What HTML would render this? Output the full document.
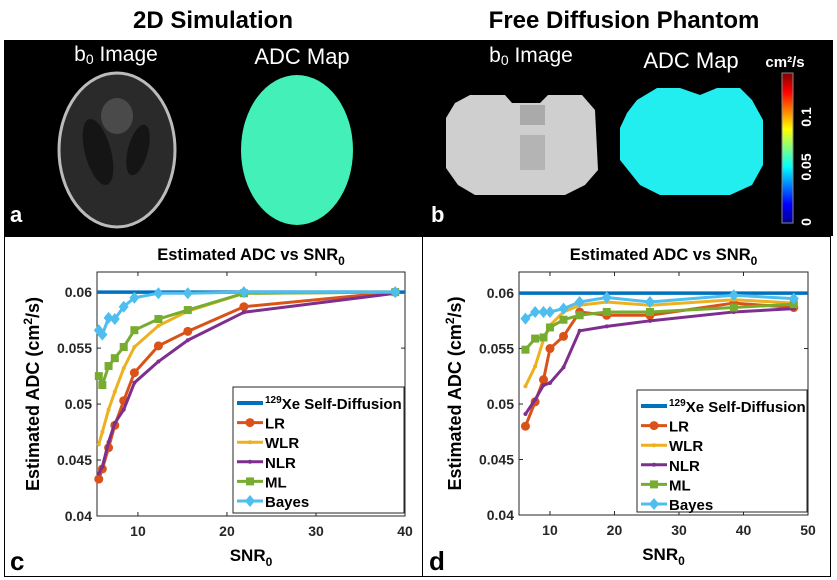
<!DOCTYPE html>
<html><head><meta charset="utf-8"><style>
html,body{margin:0;padding:0;background:#fff;}
svg{display:block;font-family:"Liberation Sans",Arial,sans-serif;}
</style></head><body>
<svg id="fig" width="837" height="580" viewBox="0 0 837 580">
<text x="213" y="28" font-size="24" font-weight="bold" text-anchor="middle" fill="#000">2D Simulation</text>
<text x="624" y="28" font-size="24" font-weight="bold" text-anchor="middle" fill="#000">Free Diffusion Phantom</text>
<rect x="4" y="40" width="829" height="196" fill="#000"/>
<g>
<text x="116" y="61" font-size="21" fill="#fff" text-anchor="middle">b<tspan font-size="14" dy="3">0</tspan><tspan dy="-3"> Image</tspan></text>
<text x="302" y="64" font-size="22" fill="#fff" text-anchor="middle">ADC Map</text>
<ellipse cx="117" cy="150" rx="58" ry="77" fill="#2a2a2a" stroke="#bbb" stroke-width="3"/>
<ellipse cx="117" cy="116" rx="16" ry="18" fill="#4a4a4a"/>
<ellipse cx="98" cy="152" rx="13" ry="34" fill="#151515" transform="rotate(-15 98 152)"/>
<ellipse cx="138" cy="150" rx="10" ry="26" fill="#151515" transform="rotate(15 138 150)"/>
<ellipse cx="297" cy="150" rx="56" ry="75" fill="#42f0b8"/>
<text x="10" y="222" font-size="22" font-weight="bold" fill="#fff">a</text>
</g>
<g>
<text x="531" y="62" font-size="21" fill="#fff" text-anchor="middle">b<tspan font-size="14" dy="3">0</tspan><tspan dy="-3"> Image</tspan></text>
<text x="691" y="68" font-size="22" fill="#fff" text-anchor="middle">ADC Map</text>
<path d="M446 118 L455 103 L470 95 L505 95 L512 103 L540 103 L548 95 L582 95 L595 110 L598 170 L585 185 L565 195 L475 195 L458 185 L446 168 Z" fill="#cfcfcf"/>
<rect x="520" y="105" width="25" height="20" fill="#aaa"/>
<rect x="520" y="135" width="25" height="35" fill="#b4b4b4"/>
<path d="M627 113 L637 100 L657 88 L680 88 L700 95 L717 88 L740 88 L752 100 L763 120 L763 165 L752 185 L730 195 L660 195 L640 185 L620 160 L620 128 Z" fill="#22eef0"/>
<text x="431" y="222" font-size="22" font-weight="bold" fill="#fff">b</text>
<defs><linearGradient id="jet" x1="0" y1="1" x2="0" y2="0">
<stop offset="0" stop-color="#00008f"/><stop offset="0.125" stop-color="#0000ff"/><stop offset="0.375" stop-color="#00ffff"/><stop offset="0.625" stop-color="#ffff00"/><stop offset="0.875" stop-color="#ff0000"/><stop offset="1" stop-color="#800000"/></linearGradient></defs>
<rect x="782" y="73" width="11" height="150" fill="url(#jet)" stroke="#888" stroke-width="1"/>
<text x="785" y="67" font-size="15" font-weight="bold" fill="#fff" text-anchor="middle">cm²/s</text>
<text transform="translate(811 222) rotate(-90)" font-size="14" font-weight="bold" fill="#fff" text-anchor="middle">0</text>
<text transform="translate(811 167) rotate(-90)" font-size="14" font-weight="bold" fill="#fff" text-anchor="middle">0.05</text>
<text transform="translate(811 117) rotate(-90)" font-size="14" font-weight="bold" fill="#fff" text-anchor="middle">0.1</text>
</g>
<rect x="4.5" y="236.5" width="418" height="340" fill="none" stroke="#000"/>
<rect x="422.5" y="236.5" width="408" height="340" fill="none" stroke="#000"/>
<text x="10" y="570" font-size="26" font-weight="bold" fill="#000">c</text>
<text x="429" y="570" font-size="26" font-weight="bold" fill="#000">d</text>
<g id="chartC"></g>
<g id="chartD"></g>
</svg>
<script>
const xC = [5.6, 6.0, 6.7, 7.4, 8.4, 9.6, 12.3, 15.6, 21.9, 38.9];
const lrC = [0.0433,0.0442,0.0461,0.0481,0.0503,0.0528,0.0552,0.0565,0.0587,0.0600];
const wlrC = [0.0464,0.0475,0.0495,0.0511,0.0532,0.0551,0.0570,0.0583,0.0599,0.0600];
const nlrC = [0.0438,0.0444,0.0466,0.0483,0.0495,0.0519,0.0538,0.0557,0.0582,0.0599];
const mlC = [0.0525,0.0517,0.0534,0.0541,0.0551,0.0566,0.0576,0.0584,0.0599,0.0600];
const bayesC = [0.0566,0.0562,0.0577,0.0576,0.0587,0.0595,0.0599,0.0599,0.0600,0.0600];
const xD = [6.2, 7.7, 9.0, 10.0, 12.1, 14.6, 18.8, 25.5, 38.5, 47.8];
const lrD = [0.0480,0.0502,0.0522,0.0550,0.0561,0.0583,0.0580,0.0580,0.0591,0.0587];
const wlrD = [0.0516,0.0534,0.0558,0.0571,0.0583,0.0589,0.0592,0.0589,0.0594,0.0591];
const nlrD = [0.0491,0.0504,0.0517,0.0519,0.0533,0.0566,0.0570,0.0575,0.0583,0.0586];
const mlD = [0.0549,0.0559,0.0560,0.0569,0.0576,0.0580,0.0583,0.0583,0.0587,0.0590];
const bayesD = [0.0577,0.0583,0.0583,0.0583,0.0586,0.0592,0.0596,0.0592,0.0598,0.0595];
const refValue = 0.06;
const yTicks = [0.04,0.045,0.05,0.055,0.06];
const yTickLabels = ["0.04","0.045","0.05","0.055","0.06"];
const xTicksC = [10,20,30,40];
const xTicksD = [10,20,30,40,50];
const seriesNames = ["LR","WLR","NLR","ML","Bayes"];
const NS = "http://www.w3.org/2000/svg";
const COL = {LR:"#D95319",WLR:"#EDB120",NLR:"#7E2F8E",ML:"#77AC30",Bayes:"#4DBEEE"};
function mk(parent, tag, attrs){const e=document.createElementNS(NS,tag);for(const k in attrs)e.setAttribute(k,attrs[k]);parent.appendChild(e);return e;}
function marker(g,name,px,py){
  let e;
  if(name==="LR"){e=mk(g,"circle",{cx:px,cy:py,r:4.5,fill:COL.LR});}
  else if(name==="ML"){e=mk(g,"rect",{x:px-4,y:py-4,width:8,height:8,fill:COL.ML});}
  else if(name==="Bayes"){e=mk(g,"path",{d:`M${px} ${py-6}L${px+5} ${py}L${px} ${py+6}L${px-5} ${py}Z`,fill:COL.Bayes});}
  else {e=mk(g,"circle",{cx:px,cy:py,r:2,fill:COL[name]});}
  
  
}
function chart(gid, cfg){
  const g=document.getElementById(gid);
  const sx=v=>cfg.L+(v-cfg.xmin)/(cfg.xmax-cfg.xmin)*(cfg.R-cfg.L);
  const sy=v=>cfg.B-(v-0.04)/(cfg.ymax-0.04)*(cfg.B-cfg.T);
  const ax=mk(g,"rect",{x:cfg.L,y:cfg.T,width:cfg.R-cfg.L,height:cfg.B-cfg.T,fill:"#fff",stroke:"#262626","stroke-width":1});
  
  
  yTicks.forEach((t,i)=>{
    const y=sy(t);
    mk(g,"line",{x1:cfg.L,x2:cfg.L+4,y1:y,y2:y,stroke:"#262626"});
    mk(g,"line",{x1:cfg.R,x2:cfg.R-4,y1:y,y2:y,stroke:"#262626"});
    const tx=mk(g,"text",{x:cfg.L-5,y:y+5,"font-size":14,"font-weight":"bold","text-anchor":"end",fill:"#262626"});
    tx.textContent=yTickLabels[i];
    
    
  });
  cfg.xt.forEach(t=>{
    const x=sx(t);
    mk(g,"line",{x1:x,x2:x,y1:cfg.B,y2:cfg.B-4,stroke:"#262626"});
    mk(g,"line",{x1:x,x2:x,y1:cfg.T,y2:cfg.T+4,stroke:"#262626"});
    const tx=mk(g,"text",{x:x,y:cfg.B+20,"font-size":14,"font-weight":"bold","text-anchor":"middle",fill:"#262626"});
    tx.textContent=t;
    
    
  });
  const ttl=mk(g,"text",{x:(cfg.L+cfg.R)/2,y:cfg.T-12,"font-size":16.5,"font-weight":"bold","text-anchor":"middle",fill:"#000"});
  ttl.innerHTML='Estimated ADC vs SNR<tspan font-size="12" dy="5">0</tspan>';
  
  
  const xl=mk(g,"text",{x:(cfg.L+cfg.R)/2,y:cfg.B+45,"font-size":17,"font-weight":"bold","text-anchor":"middle",fill:"#000"});
  xl.innerHTML='SNR<tspan font-size="12" dy="5">0</tspan>';
  
  
  const yl=mk(g,"text",{transform:`translate(${cfg.L-58} ${(cfg.T+cfg.B)/2}) rotate(-90)`,"font-size":18,"font-weight":"bold","text-anchor":"middle",fill:"#000"});
  yl.innerHTML='Estimated ADC (cm<tspan font-size="12" dy="-7">2</tspan><tspan dy="7">/s)</tspan>';
  
  
  const ref=mk(g,"line",{x1:cfg.L,x2:cfg.R,y1:sy(refValue),y2:sy(refValue),stroke:"#0072BD","stroke-width":3.5});
  
  
  const order=["LR","WLR","NLR","ML","Bayes"];
  order.forEach(n=>{
    const vals=cfg.data[n];
    const sg=mk(g,"g",{});
    
    
    const pts=cfg.x.map((xv,i)=>sx(xv)+","+sy(vals[i])).join(" ");
    mk(sg,"polyline",{points:pts,fill:"none",stroke:COL[n],"stroke-width":3,"stroke-linejoin":"round"});
    cfg.x.forEach((xv,i)=>marker(sg,n,sx(xv),sy(vals[i])));
  });
  const lg=mk(g,"g",{});
  
  
  mk(lg,"rect",{x:cfg.lx,y:cfg.ly,width:cfg.R-cfg.lx-1,height:cfg.B-cfg.ly-3,fill:"#fff",stroke:"#262626"});
  const step=19.6;
  let y0=cfg.ly+16;
  mk(lg,"line",{x1:cfg.lx+4,x2:cfg.lx+30,y1:y0,y2:y0,stroke:"#0072BD","stroke-width":4});
  const t0=mk(lg,"text",{x:cfg.lx+32,y:y0+6,"font-size":15,"font-weight":"bold",fill:"#000"});
  t0.innerHTML='<tspan font-size="10" dy="-6">129</tspan><tspan dy="6">Xe Self-Diffusion</tspan>';
  
  
  seriesNames.forEach((n,i)=>{
    const y=y0+step*(i+1);
    mk(lg,"line",{x1:cfg.lx+4,x2:cfg.lx+30,y1:y,y2:y,stroke:COL[n],"stroke-width":3});
    marker(lg,n,cfg.lx+17,y);
    const t=mk(lg,"text",{x:cfg.lx+32,y:y+6,"font-size":15,"font-weight":"bold",fill:"#000"});
    t.textContent=n;
    
    
  });
}
chart("chartC",{L:97,R:405,T:272,B:516,xmin:5.4,xmax:40,ymax:0.0618,xt:xTicksC,x:xC,
  data:{LR:lrC,WLR:wlrC,NLR:nlrC,ML:mlC,Bayes:bayesC},lx:233,ly:387});
chart("chartD",{L:519,R:808,T:272,B:515,xmin:5.2,xmax:50,ymax:0.0619,xt:xTicksD,x:xD,
  data:{LR:lrD,WLR:wlrD,NLR:nlrD,ML:mlD,Bayes:bayesD},lx:637,ly:390});
</script>
</body></html>
